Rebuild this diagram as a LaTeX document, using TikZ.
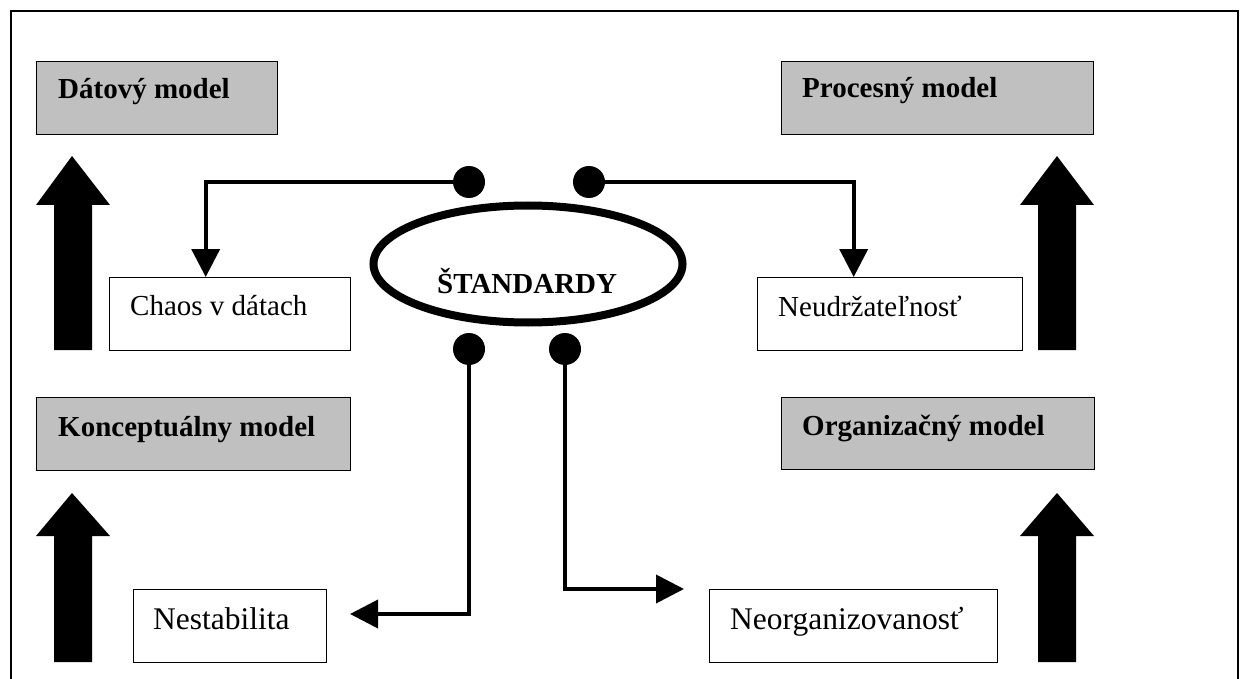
\documentclass[tikz,border=0pt]{standalone}
\usepackage{fontspec}
\setmainfont{Liberation Serif}
\usetikzlibrary{arrows.meta,shapes.geometric}
\definecolor{boxgray}{HTML}{C0C0C0}
\tikzset{
  modelbox/.style={draw, line width=1.4pt, fill=boxgray, rectangle, inner sep=0pt, anchor=north west},
  issuebox/.style={draw, line width=1.4pt, fill=white, rectangle, inner sep=0pt, anchor=north west},
  boldlabel/.style={anchor=base west, inner sep=0pt, font=\fontsize{29}{34}\selectfont\bfseries},
  plainlabel/.style={anchor=base west, inner sep=0pt, font=\fontsize{29}{34}\selectfont},
  largelabel/.style={anchor=base west, inner sep=0pt, font=\fontsize{31.5}{36}\selectfont},
  joint/.style={circle, fill=black, inner sep=0pt, minimum size=32pt},
  conn/.style={line width=3.8pt, -{Triangle[length=28pt,width=28pt]}},
  blockarrow/.style={fill=black}
}
\begin{document}
\begin{tikzpicture}[x=1pt,y=-1pt]
  \useasboundingbox (0,0) rectangle (1242,679);
  \clip (0,0) rectangle (1242,679);

  % outer frame (continues past the lower edge)
  \draw[line width=2.6pt] (11,690) -- (11,11) -- (1238,11) -- (1238,690);

  % model boxes
  \node[modelbox, minimum width=241pt, minimum height=73pt] (dat)  at (36,61)  {};
  \node[modelbox, minimum width=312pt, minimum height=73pt] (proc) at (781,61) {};
  \node[modelbox, minimum width=314pt, minimum height=73pt] (konc) at (36,397) {};
  \node[modelbox, minimum width=313pt, minimum height=72pt] (org)  at (781,397) {};

  \node[boldlabel] (datL)  at (58,99)   {Dátový model};
  \node[boldlabel] (procL) at (802,98)  {Procesný model};
  \node[boldlabel] (koncL) at (58,436)  {Konceptuálny model};
  \node[boldlabel] (orgL)  at (802,435) {Organizačný model};

  % problem boxes
  \node[issuebox, minimum width=241pt, minimum height=73pt] (chaos) at (109,277) {};
  \node[issuebox, minimum width=265pt, minimum height=73pt] (neud)  at (757,277) {};
  \node[issuebox, minimum width=193pt, minimum height=73pt] (nest)  at (133,589) {};
  \node[issuebox, minimum width=288pt, minimum height=73pt] (neorg) at (709,589) {};

  \node[plainlabel] (chaosL) at (130,315) {Chaos v dátach};
  \node[plainlabel] (neudL)  at (778,316) {Neudržateľnosť};
  \node[largelabel] (nestL)  at (153,629) {Nestabilita};
  \node[largelabel] (neorgL) at (730,629) {Neorganizovanosť};

  % block arrows pointing up to the models
  \fill[blockarrow] (72,156) -- (110,205) -- (92,205) -- (92,350) -- (54,350) -- (54,205) -- (36,205) -- cycle;
  \fill[blockarrow] (72,493) -- (110,536) -- (92,536) -- (92,662) -- (54,662) -- (54,536) -- (36,536) -- cycle;
  \fill[blockarrow] (1057,156) -- (1094,205) -- (1076,205) -- (1076,350) -- (1038,350) -- (1038,205) -- (1020,205) -- cycle;
  \fill[blockarrow] (1057,493) -- (1094,536) -- (1076,536) -- (1076,662) -- (1038,662) -- (1038,536) -- (1020,536) -- cycle;

  % central ellipse
  \node[ellipse, draw, line width=8pt, inner sep=0pt, minimum width=309pt, minimum height=117pt] (std) at (528,264) {};
  \node[boldlabel] (stdL) at (437,293) {ŠTANDARDY};

  % joints around the ellipse
  \node[joint] (j1) at (469,182) {};
  \node[joint] (j2) at (589,182) {};
  \node[joint] (j3) at (469,349) {};
  \node[joint] (j4) at (565,349) {};

  \coordinate (nestTip)  at (350,614);
  \coordinate (neorgTip) at (684,589);

  % connectors
  \draw[conn] (j1.center) -| ([xshift=-24.5pt]chaos.north);
  \draw[conn] (j2.center) -| ([xshift=-36.5pt]neud.north);
  \draw[conn] (j3.center) |- (nestTip);
  \draw[conn] (j4.center) |- (neorgTip);
\end{tikzpicture}
\end{document}
